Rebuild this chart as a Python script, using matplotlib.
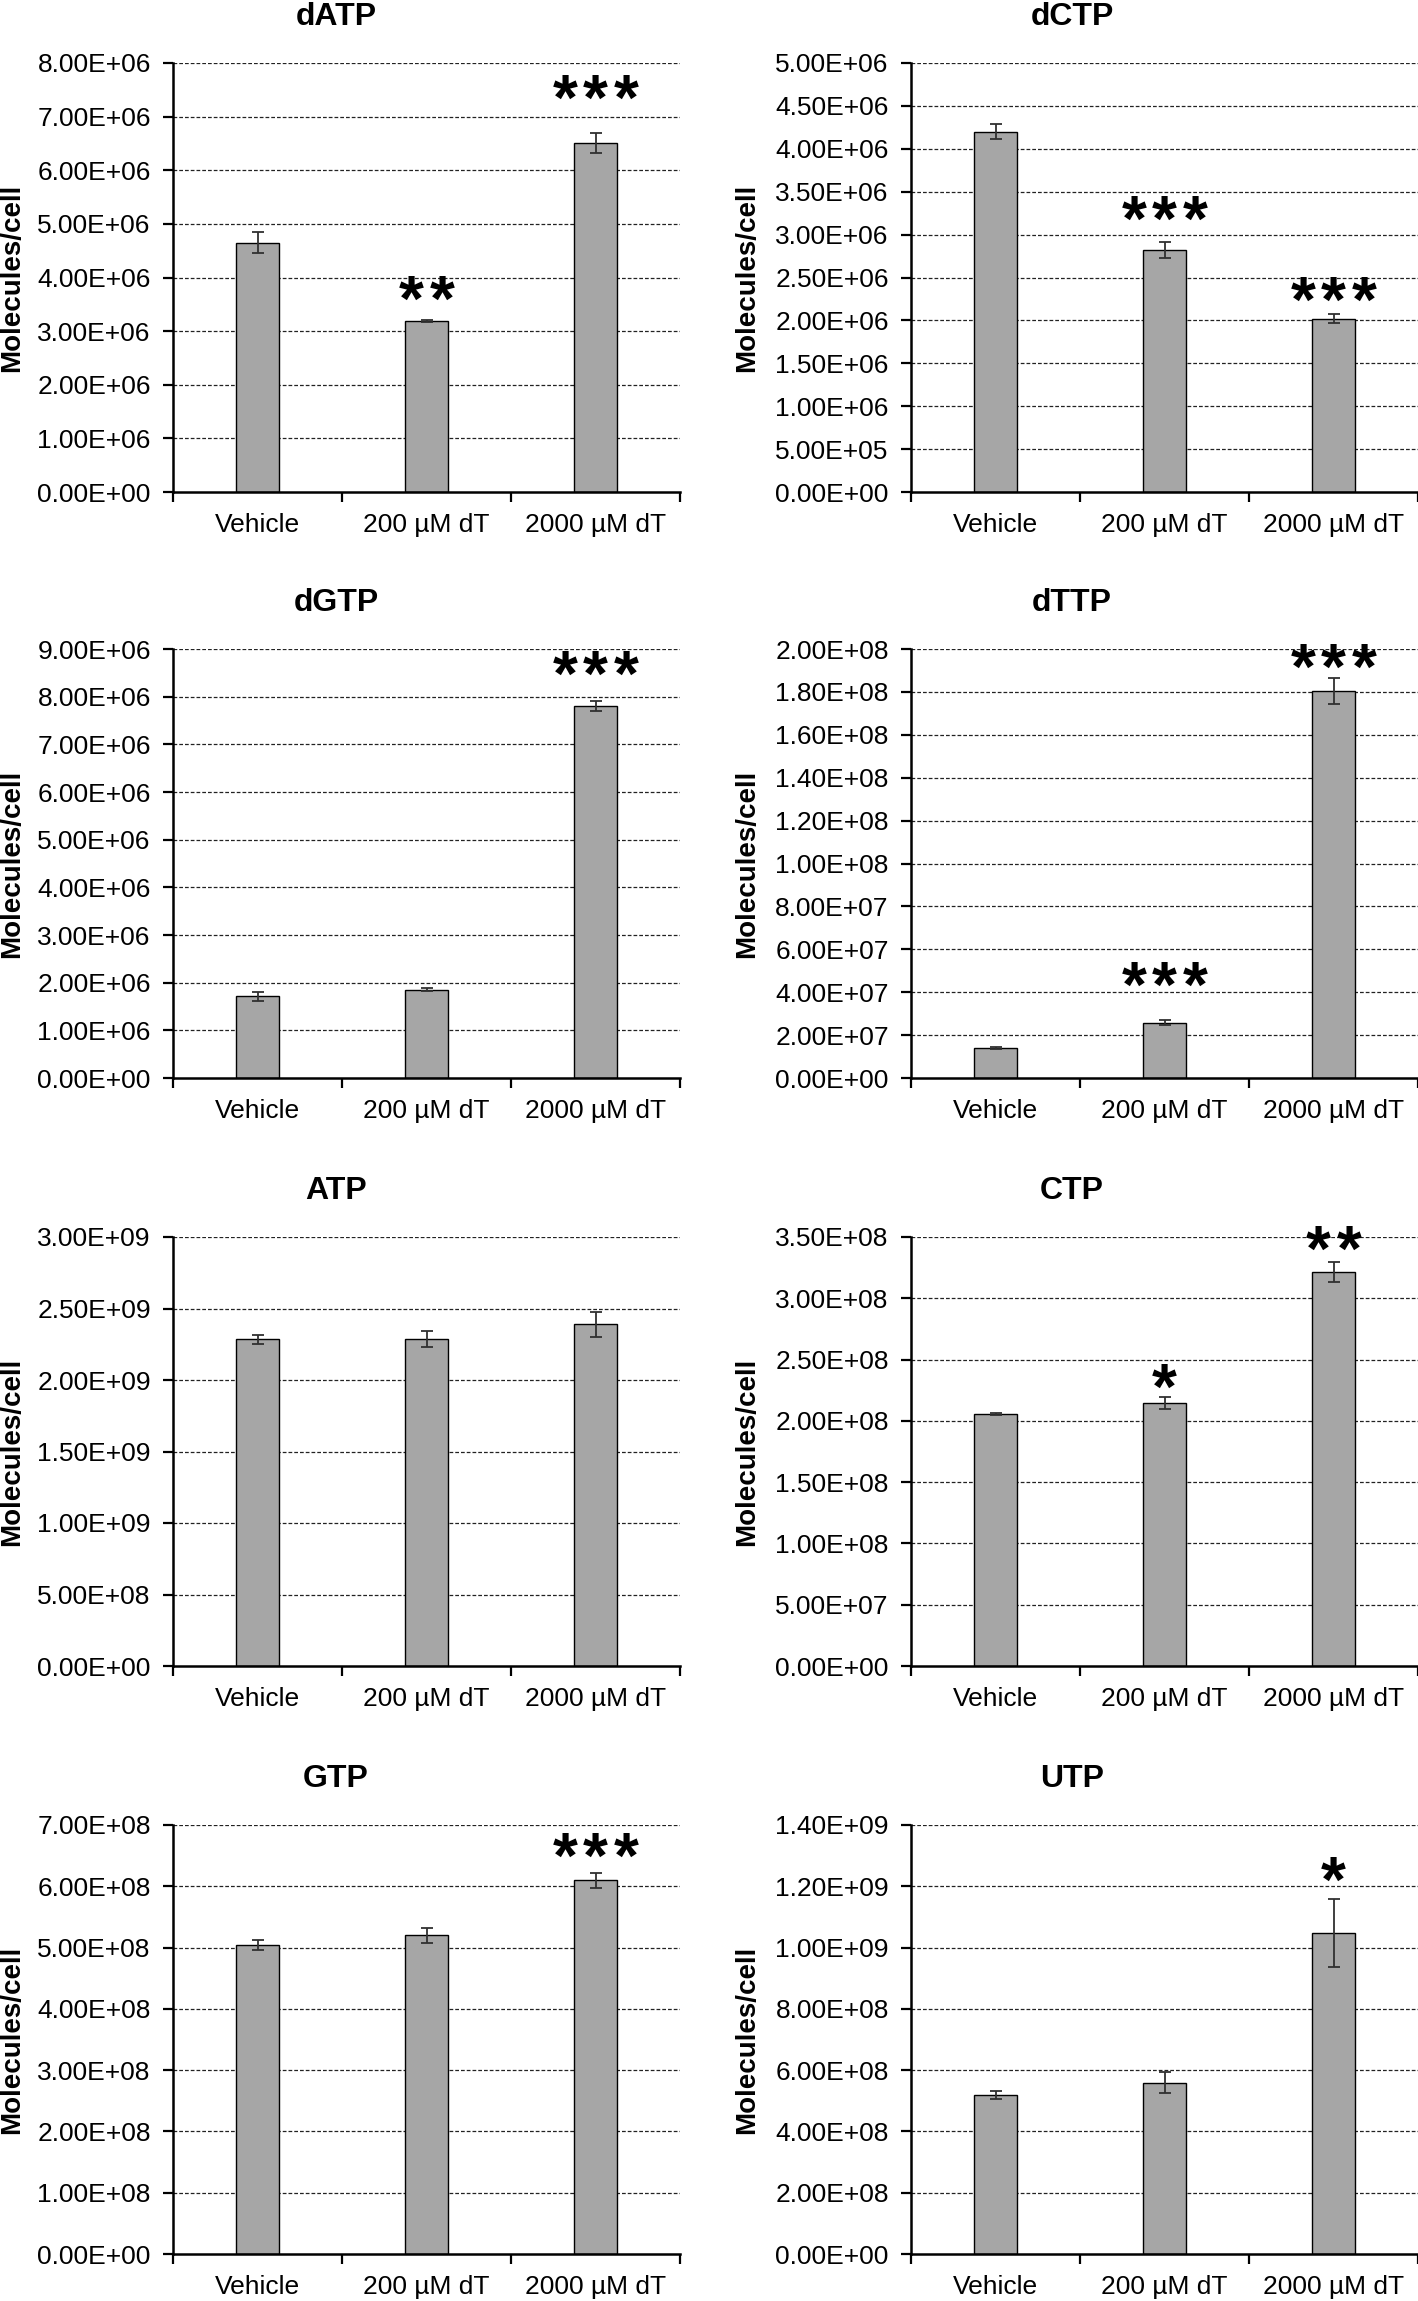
import matplotlib.pyplot as plt
import numpy as np

plt.rcParams['font.family'] = ['Liberation Sans', 'DejaVu Sans']

groups = ["Vehicle", "200 \u00b5M dT", "2000 \u00b5M dT"]

# panel names, mean values, error bars (SD), axis max, tick step
names = ["dATP", "dCTP", "dGTP", "dTTP", "ATP", "CTP", "GTP", "UTP"]

means = {
    "dATP": [4.65e6, 3.19e6, 6.51e6],
    "dCTP": [4.20e6, 2.82e6, 2.02e6],
    "dGTP": [1.71e6, 1.85e6, 7.80e6],
    "dTTP": [1.40e7, 2.58e7, 1.804e8],
    "ATP": [2.284e9, 2.284e9, 2.39e9],
    "CTP": [2.057e8, 2.144e8, 3.212e8],
    "GTP": [5.04e8, 5.20e8, 6.10e8],
    "UTP": [5.195e8, 5.59e8, 1.048e9],
}
errors = {
    "dATP": [0.20e6, 0.02e6, 0.186e6],
    "dCTP": [0.09e6, 0.09e6, 0.05e6],
    "dGTP": [0.10e6, 0.03e6, 0.10e6],
    "dTTP": [0.05e7, 0.12e7, 0.062e8],
    "ATP": [0.034e9, 0.056e9, 0.089e9],
    "CTP": [0.01e8, 0.047e8, 0.081e8],
    "GTP": [0.076e8, 0.12e8, 0.12e8],
    "UTP": [0.135e8, 0.35e8, 0.112e9],
}
ymax = {"dATP": 8e6, "dCTP": 5e6, "dGTP": 9e6, "dTTP": 2e8,
        "ATP": 3e9, "CTP": 3.5e8, "GTP": 7e8, "UTP": 1.4e9}
ystep = {"dATP": 1e6, "dCTP": 5e5, "dGTP": 1e6, "dTTP": 2e7,
         "ATP": 5e8, "CTP": 5e7, "GTP": 1e8, "UTP": 2e8}

# significance marks: (group index, number of stars, height in data units)
stars = {
    "dATP": [(1, 2, 3.88e6), (2, 3, 7.63e6)],
    "dCTP": [(1, 3, 3.36e6), (2, 3, 2.41e6)],
    "dGTP": [(2, 3, 8.79e6)],
    "dTTP": [(1, 3, 5.07e7), (2, 3, 1.985e8)],
    "ATP": [],
    "CTP": [(1, 1, 2.40e8), (2, 2, 3.53e8)],
    "GTP": [(2, 3, 6.74e8)],
    "UTP": [(2, 1, 1.271e9)],
}

W, H = 1418, 2301
fig = plt.figure(figsize=(W / 100, H / 100), dpi=100)

col_left = [173, 911]
col_title = [336, 1072]
col_ylab = [12, 747]
row_top = [63, 649, 1237, 1825]
ax_w, ax_h = 507, 429

x = np.arange(3)
star_fs = 46
star_gap = 22  # points between star centres

for i, name in enumerate(names):
    r, c = divmod(i, 2)
    left = col_left[c]
    top = row_top[r]
    ax = fig.add_axes([left / W, 1 - (top + ax_h) / H, ax_w / W, ax_h / H])

    ax.bar(x, means[name], width=0.25, color="#a6a6a6", edgecolor="black",
           linewidth=1.0, zorder=3)
    ax.errorbar(x, means[name], yerr=errors[name], fmt="none", ecolor="#303030",
                elinewidth=1.3, capsize=4, capthick=1.3, zorder=4)

    ax.set_xlim(-0.5, 2.5)
    ax.set_ylim(0, ymax[name])
    yt = np.arange(0, ymax[name] + ystep[name] / 2, ystep[name])
    ax.set_yticks(yt)
    ax.set_yticklabels(["%.2E" % v for v in yt], fontsize=19)
    ax.set_xticks(x)
    ax.set_xticklabels(groups, fontsize=19)
    ax.set_xticks([-0.5, 0.5, 1.5, 2.5], minor=True)
    ax.tick_params(axis="x", which="major", length=0, pad=15)
    ax.tick_params(axis="x", which="minor", length=7, width=1.6, direction="out")
    ax.tick_params(axis="y", length=7, width=1.6, direction="out", pad=9)

    for v in yt[1:]:
        ax.axhline(v, color="#222222", lw=0.9, ls=(0, (3, 1.6)), zorder=1)

    for s in ["top", "right"]:
        ax.spines[s].set_visible(False)
    for s in ["left", "bottom"]:
        ax.spines[s].set_linewidth(1.8)
    ax.spines["bottom"].set_zorder(5)

    for gi, n, yy in stars[name]:
        for k in range(n):
            dx = (k - (n - 1) / 2) * star_gap
            ax.annotate("*", xy=(gi, yy), xytext=(dx, -0.58 * star_fs),
                        textcoords="offset points", ha="center", va="baseline",
                        fontsize=star_fs, fontweight="bold",
                        annotation_clip=False)

    fig.text(col_title[c] / W, 1 - (top - 46) / H, name, ha="center",
             va="center", fontsize=23, fontweight="bold")
    fig.text(col_ylab[c] / W, 1 - (top + ax_h / 2) / H, "Molecules/cell",
             rotation=90, ha="center", va="center", fontsize=20,
             fontweight="bold")

fig.savefig("out.png", dpi=100)
